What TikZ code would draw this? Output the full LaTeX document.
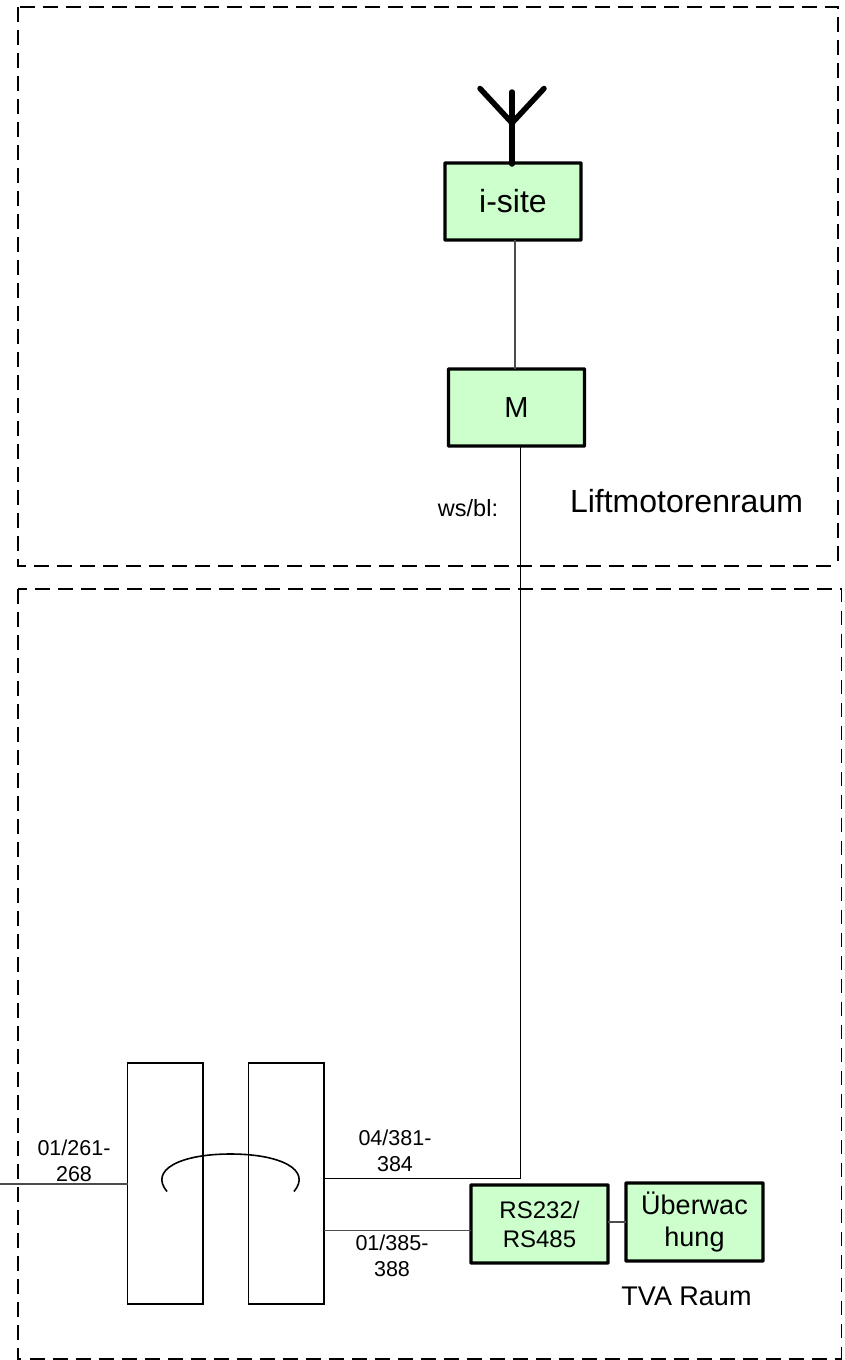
\documentclass[tikz,border=0pt]{standalone}
\usepackage{fontspec}
\setmainfont{Liberation Sans}
\tikzset{
  x=1pt,y=-1pt,
  greenbox/.style={draw=black,line width=3.4pt,fill=boxgreen,rounded corners=0.6pt,anchor=north west,inner sep=0pt,outer sep=0pt,align=center},
  panel/.style={draw=black,line width=1.6pt,fill=white,anchor=north west,inner sep=0pt,outer sep=0pt,minimum width=75.5pt,minimum height=241pt},
  zone/.style={draw=black,line width=1.7pt,dash pattern=on 14.5pt off 8.5pt},
  wire/.style={draw=black!70,line width=1.1pt},
  antenna/.style={draw=black,line width=5.5pt,line cap=round,line join=miter},
  lab/.style={inner sep=0pt,align=center,font=\fontsize{21.5}{26}\selectfont}
}
\definecolor{boxgreen}{RGB}{204,255,204}
\begin{document}
\begin{tikzpicture}
\useasboundingbox (0,0) rectangle (845,1360);
\fill[white] (0,0) rectangle (845,1360);
% zones
\draw[zone] (18,7) -- (18,566) -- (838,566);
\draw[zone] (20,7) -- (838,7) -- (838,566);
\draw[zone] (18,589) -- (18,1359) -- (841.5,1359);
\draw[zone,dash phase=6pt] (18,589) -- (841.5,589) -- (841.5,1359);
% free ends and bends
\coordinate (west) at (0,1184);
\coordinate (ptop) at (515,240);
\coordinate (bend) at (520.7,1178);
\coordinate (rsin) at (471,1230.5);
% patch panels
\node[panel] (p1) at (127.5,1063) {};
\node[panel] (p2) at (248.5,1063) {};
% boxes
\node[greenbox,minimum width=136pt,minimum height=77pt,font=\fontsize{32}{36}\selectfont] (site) at (445,163) {i-site};
\node[greenbox,minimum width=136pt,minimum height=77pt,font=\fontsize{29}{34}\selectfont] (m) at (448.5,369) {M};
\node[greenbox,minimum width=137pt,minimum height=78pt,font=\fontsize{24}{29}\selectfont] (rs) at (471,1185) {RS232/\\RS485};
\node[greenbox,minimum width=137pt,minimum height=78pt,font=\fontsize{27}{32}\selectfont] (ue) at (626,1183) {Überwac\\hung};
% connectors
\draw[wire] (ptop) -- (ptop |- m.north);
\draw[draw=black,line width=1pt] (m.south -| bend) -- (bend) -- (p2.east |- bend);
\draw[wire] (west) -- (p1.west |- west);
\draw[wire] (p2.east |- rsin) -- (rsin);
\draw[wire] (rs.east |- ue.west) -- (ue.west);
% bridge
\coordinate (a1) at (167,1191.5);
\coordinate (a2) at (294,1191.5);
\draw[black,line width=1.6pt] (a1) .. controls (149,1170) and (180,1154) .. (230.5,1154) .. controls (281,1154) and (312,1170) .. (a2);
% antenna
\coordinate (af) at (512,123);
\draw[antenna] (512,92) -- (512,164);
\draw[antenna] (480,88.5) -- (af) -- (544,88.5);
% labels
\node[lab] (l1) at (74,1161) {01/261-\\268};
\node[lab] (l2) at (395,1151) {04/381-\\384};
\node[lab] (l3) at (392,1256) {01/385-\\388};
\node[lab,font=\fontsize{23.5}{28}\selectfont] (l4) at (468,508) {ws/bl:};
\node[inner sep=0pt,font=\fontsize{32}{38}\selectfont] (l5) at (686.5,501) {Liftmotorenraum};
\node[inner sep=0pt,font=\fontsize{27}{32}\selectfont] (l6) at (686.5,1296) {TVA Raum};
\end{tikzpicture}
\end{document}
